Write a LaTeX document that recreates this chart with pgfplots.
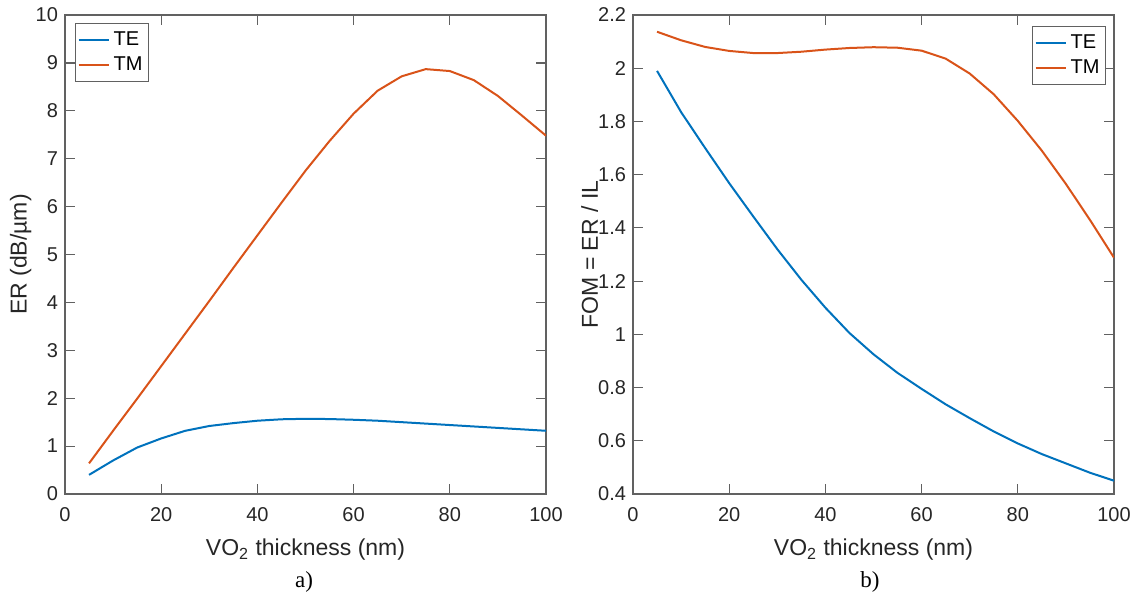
\documentclass[border=0pt]{standalone}
\usepackage{pgfplots}
\pgfplotsset{compat=1.18}
\usepackage{fontspec}
\setmainfont{Liberation Sans}
\newfontfamily\serifcap{Liberation Serif}
\definecolor{mblue}{rgb}{0,0.447,0.741}
\definecolor{morange}{rgb}{0.85,0.325,0.098}
\definecolor{axgray}{rgb}{0.38,0.38,0.38}
\pgfplotstableread{
x TE TM
5 0.40 0.64
10 0.70 1.32
15 0.97 1.99
20 1.16 2.67
25 1.32 3.35
30 1.42 4.03
35 1.48 4.72
40 1.53 5.40
45 1.56 6.08
50 1.57 6.75
55 1.565 7.37
60 1.55 7.94
65 1.53 8.42
70 1.50 8.72
75 1.47 8.87
80 1.44 8.83
85 1.41 8.64
90 1.38 8.31
95 1.35 7.90
100 1.32 7.48
}\tableER
\pgfplotstableread{
x TE TM
5 1.99 2.137
10 1.835 2.105
15 1.70 2.080
20 1.568 2.065
25 1.443 2.057
30 1.32 2.057
35 1.205 2.062
40 1.10 2.070
45 1.005 2.076
50 0.925 2.079
55 0.855 2.077
60 0.795 2.066
65 0.737 2.036
70 0.685 1.980
75 0.635 1.902
80 0.59 1.802
85 0.55 1.690
90 0.515 1.565
95 0.48 1.430
100 0.45 1.288
}\tableFOM
\pgfplotsset{
  mystyle/.style={
    scale only axis,
    width=240.5pt, height=239.5pt,
    xmin=0, xmax=100, xtick={0,20,...,100},
    axis line style={axgray, line width=0.6pt},
    tick style={axgray, line width=0.6pt},
    major tick length=5pt,
    tick align=inside,
    xtick pos=both, ytick pos=both,
    ticklabel style={font=\fontsize{10}{12}\selectfont, text=black!85},
    x tick label style={yshift=-3pt},
    /pgf/number format/assume math mode=true,
    label style={font=\fontsize{11.5}{13}\selectfont, text=black!85},
    xlabel={VO\textsubscript{2} thickness (nm)},
    x label style={at={(axis description cs:0.5,0)}, anchor=center, yshift=-28pt},
    legend style={font=\fontsize{10}{12}\selectfont, draw=axgray, line width=0.6pt, inner xsep=1pt, inner ysep=2pt, row sep=0pt, cells={anchor=west}},
    legend image code/.code={\draw[#1, line width=1pt] (0pt,0pt) -- (15pt,0pt);},
    every axis plot/.append style={line width=1pt},
  }
}
\begin{document}
\begin{tikzpicture}
\path[use as bounding box] (0pt,0pt) rectangle (569pt,-299.5pt);
\begin{axis}[mystyle, at={(32.5pt,-247pt)}, anchor=south west,
  ymin=0, ymax=10, ytick={0,1,...,10},
  ylabel={ER (dB/\textmu m)},
  y label style={at={(axis description cs:-0.092,0.5)}, anchor=center},
  legend style={at={(axis description cs:0,1)}, anchor=north west, xshift=5pt, yshift=-4pt}]
\addplot[mblue] table[x=x,y=TE] {\tableER};
\addplot[morange] table[x=x,y=TM] {\tableER};
\legend{TE,TM}
\end{axis}
\begin{axis}[mystyle, at={(316.5pt,-247pt)}, anchor=south west,
  ymin=0.4, ymax=2.2, ytick={0.4,0.6,...,2.21},
  yticklabels={0.4,0.6,0.8,1,1.2,1.4,1.6,1.8,2,2.2},
  ylabel={FOM = ER / IL},
  y label style={at={(axis description cs:-0.09,0.5)}, anchor=center},
  legend style={at={(axis description cs:1,1)}, anchor=north east, xshift=-4pt, yshift=-5.5pt}]
\addplot[mblue] table[x=x,y=TE] {\tableFOM};
\addplot[morange] table[x=x,y=TM] {\tableFOM};
\legend{TE,TM}
\end{axis}
\node[font=\serifcap\fontsize{11.5}{13}\selectfont] at (152pt,-291pt) {a)};
\node[font=\serifcap\fontsize{11.5}{13}\selectfont] at (435pt,-291pt) {b)};
\end{tikzpicture}
\end{document}
